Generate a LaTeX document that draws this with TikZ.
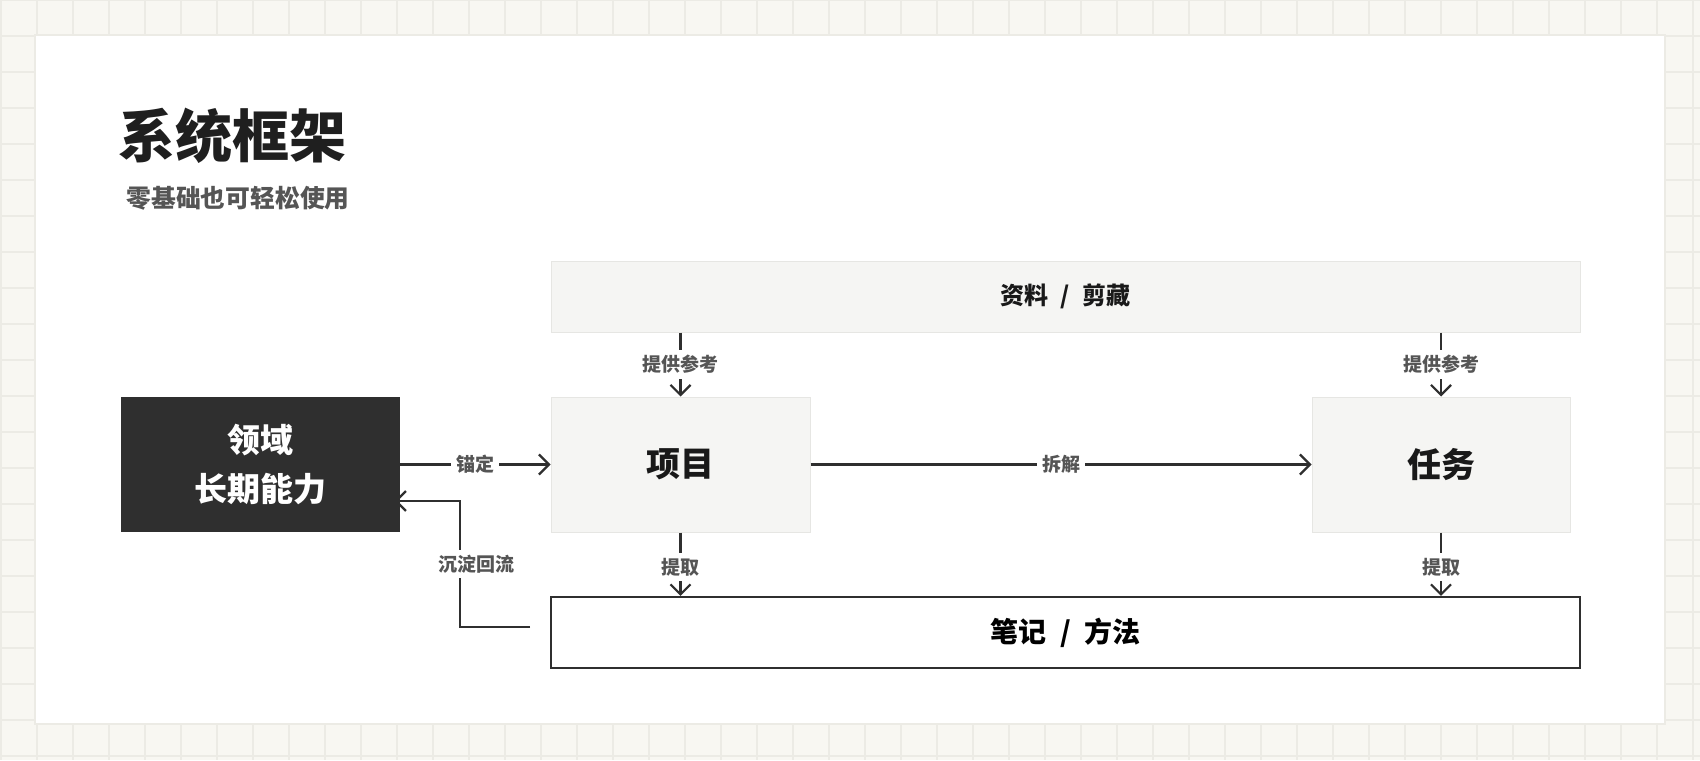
\documentclass[tikz,border=0pt]{standalone}
\usepackage{fontspec}
\setmainfont{Noto Sans CJK SC}
\usetikzlibrary{arrows.meta}
\definecolor{paper}{HTML}{F8F7F2}
\definecolor{gridc}{HTML}{ECEBE5}
\definecolor{boxfill}{HTML}{F5F5F3}
\definecolor{boxline}{HTML}{E6E6E3}
\definecolor{ink}{HTML}{2F2F2F}
\definecolor{muted}{HTML}{555555}
\newcommand{\midslash}{\hspace{0.5em}/\hspace{0.5em}}

\begin{document}
\begin{tikzpicture}[x=0.5pt,y=-0.5pt]
    \tikzstyle{softbox}=[rectangle,fill=boxfill,draw=boxline,line width=0.5pt,text=black!90,font=\bfseries]
    \tikzstyle{darkbox}=[rectangle,fill=ink,text=white,align=center,font=\fontsize{16.5}{24.5}\selectfont\bfseries]
    \tikzstyle{linebox}=[rectangle,fill=white,draw=ink,line width=1.1pt,font=\fontsize{14}{16}\selectfont\bfseries]
    \tikzstyle{tag}=[fill=white,inner sep=2.5pt,text=muted,font=\fontsize{9.5}{10}\selectfont\bfseries]
    \tikzstyle{flow}=[draw=ink,line width=1.1pt,-{Straight Barb[length=5pt,width=10pt]}]

    \useasboundingbox (0,0) rectangle (1700,760);
    \fill[paper] (0,0) rectangle (1700,760);
    \foreach \x in {1,37,...,1700} \draw[gridc,line width=0.6pt] (\x,0) -- (\x,760);
    \foreach \y in {0,36,...,760} \draw[gridc,line width=0.6pt] (0,\y) -- (1700,\y);
    \filldraw[fill=white,draw=gridc,line width=0.6pt] (35,35) rectangle (1665,724);

    \node[anchor=west,inner sep=0,text=black!88,font=\fontsize{28.5}{30}\selectfont\bfseries] (title) at (118,136) {系统框架};
    \node[anchor=west,inner sep=0,text=muted,font=\fontsize{12.4}{14}\selectfont\bfseries] (subtitle) at (126,198) {零基础也可轻松使用};

    % boxes
    \node[softbox,minimum width=514.5pt,minimum height=35.5pt,font=\fontsize{12}{14}\selectfont\bfseries] (src) at (1065.5,296.5) {资料\midslash{}剪藏};
    \node[softbox,minimum width=129.5pt,minimum height=67.5pt,font=\fontsize{17}{20}\selectfont\bfseries] (proj) at (680.5,464.5) {项目};
    \node[softbox,minimum width=129pt,minimum height=67.5pt,font=\fontsize{17}{20}\selectfont\bfseries] (task) at (1441,464.5) {任务};
    \node[darkbox,minimum width=139.5pt,minimum height=67.5pt] (dom) at (260.5,464.5) {领域\\长期能力};
    \node[linebox,minimum width=514.5pt,minimum height=35.5pt] (notes) at (1065.5,632.5) {笔记\midslash{}方法};

    % connectors
    \draw[flow] (src.south -| proj.center) -- node[tag] {提供参考} (proj);
    \draw[flow] (src.south -| task.center) -- node[tag] {提供参考} (task);
    \draw[flow] (dom) -- node[tag] {锚定} (proj);
    \draw[flow] (proj) -- node[tag] {拆解} (task);
    \draw[flow] (proj) -- node[tag,pos=0.55] {提取} (proj |- notes.north);
    \draw[flow] (task) -- node[tag,pos=0.55] {提取} (task |- notes.north);

    \coordinate (backin) at (530,627);
    \coordinate (turn) at (460,501);
    \draw[flow,shorten >=-3pt] (backin) -| node[tag,pos=0.75,xshift=8pt] {沉淀回流} (turn) -- (turn -| dom.east);

\end{tikzpicture}
\end{document}
